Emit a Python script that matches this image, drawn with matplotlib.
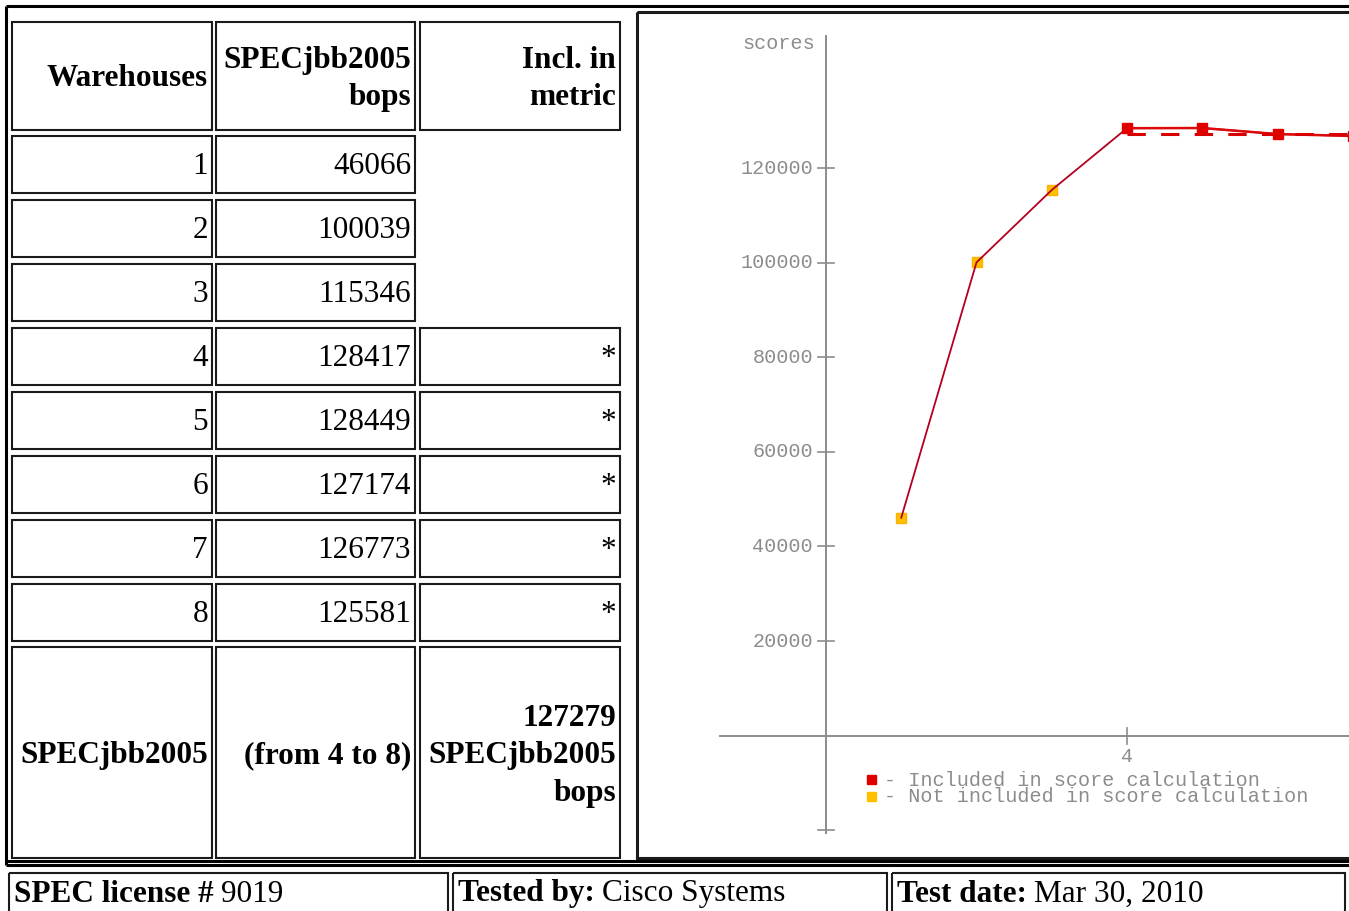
import matplotlib
matplotlib.use('Agg')
import matplotlib.pyplot as plt
from matplotlib.patches import Rectangle

# ---------------- data ----------------
warehouses = [1, 2, 3, 4, 5, 6, 7, 8]
bops = [46066, 100039, 115346, 128417, 128449, 127174, 126773, 125581]
included = [False, False, False, True, True, True, True, True]
metric_score = 127279
metric_label = "(from 4 to 8)"
metric_name = "SPECjbb2005"
header = ["Warehouses", "SPECjbb2005\nbops", "Incl. in\nmetric"]
y_ticks = [20000, 40000, 60000, 80000, 100000, 120000]
x_ticks = [4]
legend_labels = ["- Included in score calculation",
                 "- Not included in score calculation"]
footer_bold = ["SPEC license #", "Tested by:", "Test date:"]
footer_reg = ["9019", "Cisco Systems", "Mar 30, 2010"]

# ---------------- layout ----------------
W, H = 1349, 911
fig = plt.figure(figsize=(W / 100, H / 100), dpi=100)
bg = fig.add_axes([0, 0, 1, 1])
bg.set_xlim(0, W)
bg.set_ylim(H, 0)
bg.axis('off')

SERIF = 'Liberation Serif'
FS = 22.5
EDGE = '#1a1a1a'


def cell(x0, y0, x1, y1, lw=1.5):
    bg.add_patch(Rectangle((x0, y0), x1 - x0, y1 - y0, fill=False,
                           ec=EDGE, lw=lw))


# outer frame
bg.plot([6, 6], [6, 865], color='black', lw=2.2, solid_capstyle='butt')
bg.plot([6, W], [6, 6], color='black', lw=2.2, solid_capstyle='butt')
bg.plot([6, W], [861, 861], color='black', lw=2.2, solid_capstyle='butt')
bg.plot([6, W], [865, 865], color='black', lw=2.2, solid_capstyle='butt')

cols = [(12, 212), (216, 415), (420, 620)]
# header
for (x0, x1), txt in zip(cols, header):
    cell(x0, 22, x1, 130)
    bg.text(x1 - 4, 79, txt, ha='right', va='center', fontfamily=SERIF,
            fontweight='bold', fontsize=FS, linespacing=1.38)

# data rows
for i, (w, b, inc) in enumerate(zip(warehouses, bops, included)):
    top = 136 + 64 * i
    bot = top + 57
    yc = (top + bot) / 2 + 2
    cell(cols[0][0], top, cols[0][1], bot)
    cell(cols[1][0], top, cols[1][1], bot)
    bg.text(cols[0][1] - 4, yc, str(w), ha='right', va='center',
            fontfamily=SERIF, fontsize=FS)
    bg.text(cols[1][1] - 4, yc, str(b), ha='right', va='center',
            fontfamily=SERIF, fontsize=FS)
    if inc:
        cell(cols[2][0], top, cols[2][1], bot)
        bg.text(cols[2][1] - 4, yc, "*", ha='right', va='center',
                fontfamily=SERIF, fontsize=FS)

# summary row
sy0, sy1 = 647, 858
for x0, x1 in cols:
    cell(x0, sy0, x1, sy1)
bg.text(cols[0][1] - 4, 756, metric_name, ha='right', va='center',
        fontfamily=SERIF, fontweight='bold', fontsize=FS)
bg.text(cols[1][1] - 4, 756, metric_label, ha='right', va='center',
        fontfamily=SERIF, fontweight='bold', fontsize=FS)
bg.text(cols[2][1] - 4, 756, f"{metric_score}\n{metric_name}\nbops",
        ha='right', va='center', fontfamily=SERIF, fontweight='bold',
        fontsize=FS, linespacing=1.38)

# footer
renderer = fig.canvas.get_renderer()
foot_cells = [(9, 448), (453, 887), (892, 1345)]
for (x0, x1), b, r in zip(foot_cells, footer_bold, footer_reg):
    cell(x0, 873, x1, 918)
    t = bg.text(x0 + 5, 894, b, ha='left', va='center', fontfamily=SERIF,
                fontweight='bold', fontsize=FS)
    bb = t.get_window_extent(renderer)
    bg.text(x0 + 5 + bb.width + 7, 894, r, ha='left', va='center',
            fontfamily=SERIF, fontsize=FS)

# chart box
cx0, cy0, cx1, cy1 = 637, 12, W + 5, 858
cell(cx0, cy0, cx1, cy1, lw=2.2)

# ---------------- chart ----------------
ax = fig.add_axes([cx0 / W, 1 - cy1 / H, (W - cx0) / W, (cy1 - cy0) / H])
ax.set_facecolor('none')
ax.axis('off')
ox, sx = 826.0, 75.25      # pixel of x=0, px per warehouse
oy, sy = 735.6, 0.00473    # pixel of y=0, px per bop
ax.set_xlim((cx0 - ox) / sx, (W - ox) / sx)
ax.set_ylim((oy - cy1) / sy, (oy - cy0) / sy)


def dx(px):
    return (px - ox) / sx


def dy(py):
    return (oy - py) / sy


GRAY = '#8c8c8c'
MONO = 'Liberation Mono'
TFS = 14.5

# axes lines
ax.plot([0, 0], [dy(833), dy(36)], color=GRAY, lw=1.4)
ax.plot([dx(720), dx(W)], [0, 0], color=GRAY, lw=1.4)
tk = 8
for v in y_ticks + [-20000]:
    ax.plot([dx(ox - tk), dx(ox + tk)], [v, v], color=GRAY, lw=1.2)
for v in y_ticks:
    ax.text(dx(813), v, str(v), ha='right', va='center', color=GRAY,
            fontfamily=MONO, fontsize=TFS)
ax.text(dx(815), dy(43), "scores", ha='right', va='center', color=GRAY,
        fontfamily=MONO, fontsize=TFS)
for v in x_ticks:
    ax.plot([v, v], [dy(oy - tk), dy(oy + tk)], color=GRAY, lw=1.2)
    ax.text(v, dy(757), str(v), ha='center', va='center', color=GRAY,
            fontfamily=MONO, fontsize=TFS)

# data
inc_x = [w for w, i in zip(warehouses, included) if i]
inc_y = [b for b, i in zip(bops, included) if i]
exc_x = [w for w, i in zip(warehouses, included) if not i]
exc_y = [b for b, i in zip(bops, included) if not i]
ax.plot(exc_x, exc_y, 's', color='#ffc000', ms=7, mec='#ffb000', zorder=2)
ax.plot(warehouses, bops, color='#b4001e', lw=1.3, zorder=3)
ax.plot(inc_x, inc_y, color='#dc0a0a', lw=1.8, zorder=3)
ax.hlines(metric_score, inc_x[0], inc_x[-1], colors='#d80000', lw=2.2,
          linestyles=(0, (6, 5)), zorder=3)
ax.plot(inc_x, inc_y, 's', color='#e00000', ms=7, zorder=4)

# legend
lx, ly = 872, 780
for k, (lab, col) in enumerate(zip(legend_labels, ['#e00000', '#ffc000'])):
    yy = ly + 17 * k
    bg.add_patch(Rectangle((lx - 5, yy - 5), 9, 9, color=col, zorder=5))
    bg.text(lx + 12, yy, lab, ha='left', va='center', color=GRAY,
            fontfamily=MONO, fontsize=TFS, zorder=5)

fig.savefig('out.png', dpi=100)
